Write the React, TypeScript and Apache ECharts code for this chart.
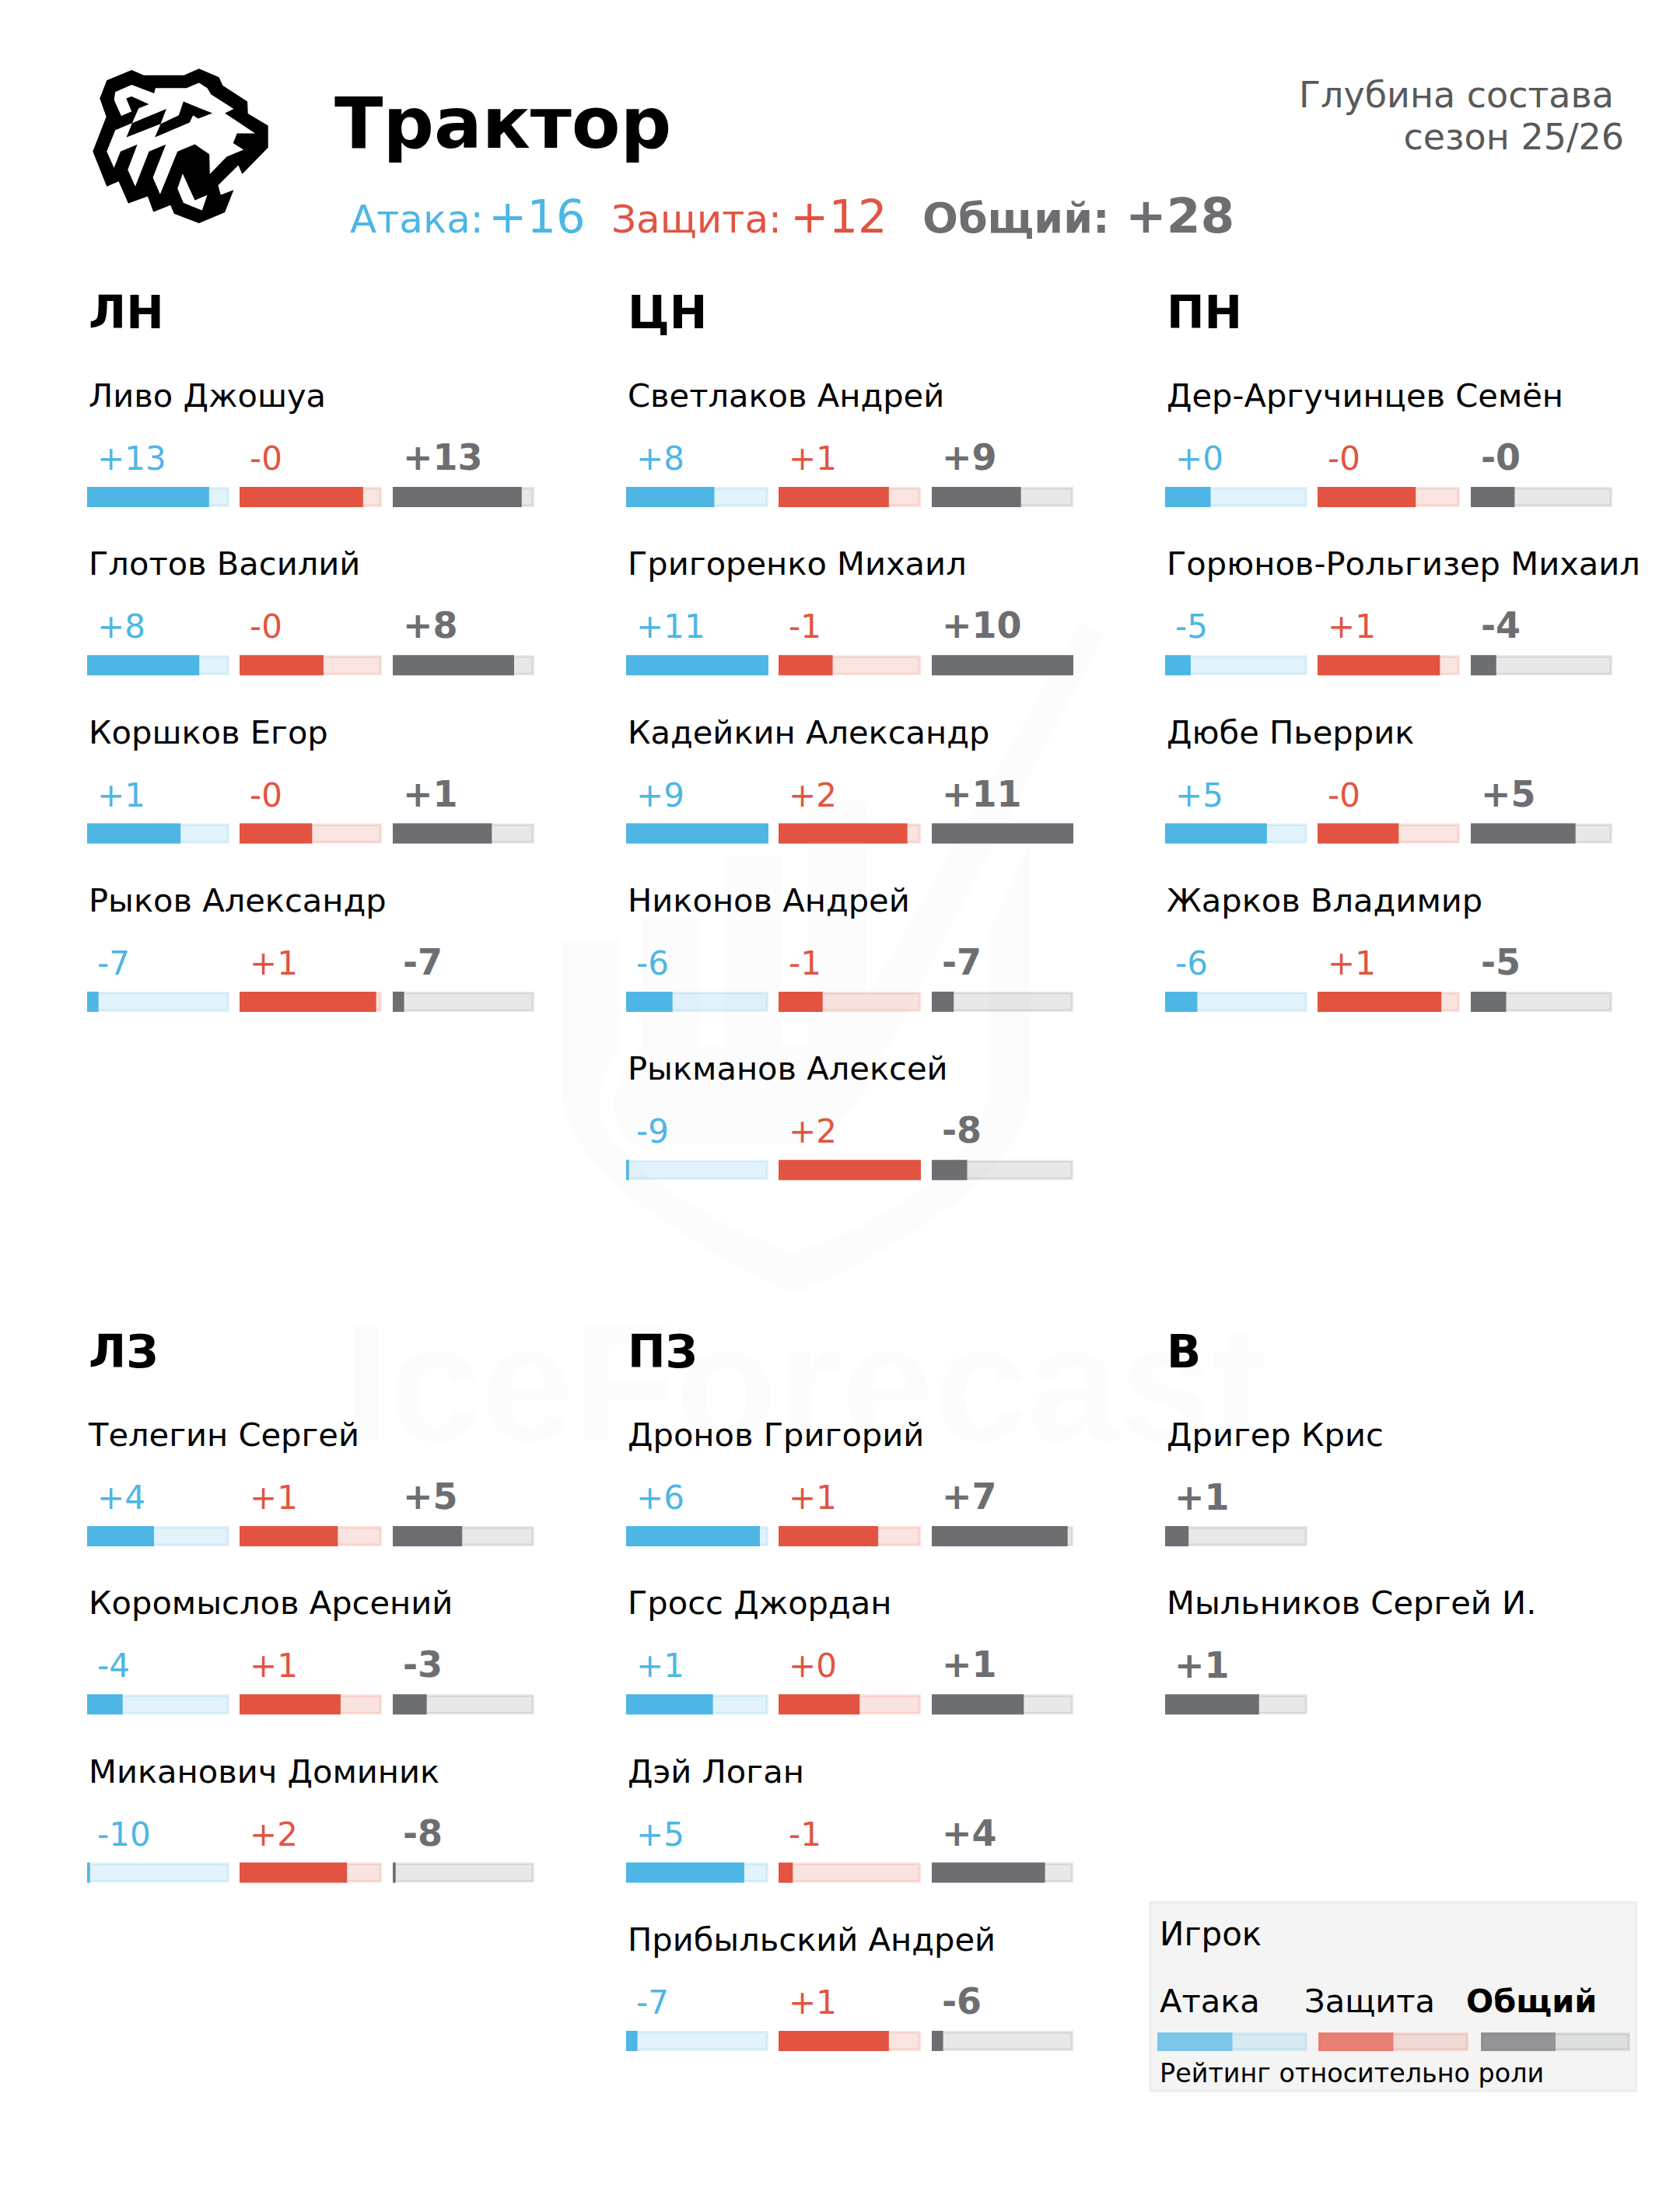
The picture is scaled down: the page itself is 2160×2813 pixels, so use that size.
import React, { useEffect, useRef } from "react";
import * as echarts from "echarts";

const W = 2160;
const H = 2813;
const FONT = "DejaVu Sans";
const BLUE = "#4db6e5";
const RED = "#e25441";
const GREY = "#6d6e71";

const groupNames = ["ЛН", "ЦН", "ПН", "ЛЗ", "ПЗ", "В"];
const groupSizes = [4, 5, 4, 3, 4, 2];
const players = [
  "Ливо Джошуа", "Глотов Василий", "Коршков Егор", "Рыков Александр",
  "Светлаков Андрей", "Григоренко Михаил", "Кадейкин Александр", "Никонов Андрей", "Рыкманов Алексей",
  "Дер-Аргучинцев Семён", "Горюнов-Рольгизер Михаил", "Дюбе Пьеррик", "Жарков Владимир",
  "Телегин Сергей", "Коромыслов Арсений", "Миканович Доминик",
  "Дронов Григорий", "Гросс Джордан", "Дэй Логан", "Прибыльский Андрей",
  "Дригер Крис", "Мыльников Сергей И.",
];
const attackLabels = ["+13", "+8", "+1", "-7", "+8", "+11", "+9", "-6", "-9", "+0", "-5", "+5", "-6", "+4", "-4", "-10", "+6", "+1", "+5", "-7", null, null];
const defenceLabels = ["-0", "-0", "-0", "+1", "+1", "-1", "+2", "-1", "+2", "-0", "+1", "-0", "+1", "+1", "+1", "+2", "+1", "+0", "-1", "+1", null, null];
const overallLabels = ["+13", "+8", "+1", "-7", "+9", "+10", "+11", "-7", "-8", "-0", "-4", "+5", "-5", "+5", "-3", "-8", "+7", "+1", "+4", "-6", "+1", "+1"];
const attackFill = [85.7, 78.8, 65.7, 8, 62, 100, 100, 32.6, 2, 32, 18, 71.5, 22.6, 47, 25, 2, 94, 61, 83, 8, null, null];
const defenceFill = [86.8, 59, 51, 96, 77.5, 38, 90.5, 31, 100, 69, 86, 57, 87, 69, 71, 75.5, 70, 57, 10, 77.5, null, null];
const overallFill = [91.1, 85.7, 70, 8, 63, 100, 100, 15.5, 25, 31, 18, 74, 25, 49, 24, 2, 96, 65, 80, 8, 16.5, 66];
const legendLabels = ["Атака", "Защита", "Общий"];
const legendFill = [50, 50, 50];

const COL_X = [112, 805, 1498];
const TRACK_OFFSET = [0, 196, 393];
const TRACK_W = 183;
const OVERALL_W = 182;
const TRACK_H = 26;
const ROW_H = 216.3;
const SECTION_TOP = [626, 626, 626, 1962, 1962, 1962];

const logoOuter = [[268,90],[315,110],[470,110],[528,85],[605,118],[620,150],[715,212],[717,258],[795,305],[795,390],[695,492],[680,458],[602,535],[612,572],[662,553],[628,640],[528,682],[432,645],[418,612],[352,638],[330,578],[255,605],[218,520],[172,540],[118,405],[170,270],[145,200],[172,130]];
const logoFace = [[205,175],[268,147],[355,180],[360,160],[480,160],[528,140],[560,160],[575,185],[662,240],[628,257],[745,335],[675,335],[660,372],[700,398],[635,425],[570,492],[568,415],[512,377],[445,405],[378,570],[350,505],[400,378],[335,405],[282,540],[253,475],[290,378],[225,405],[200,468],[172,405],[205,322],[270,295],[295,238],[335,222],[268,192],[247,200],[268,250],[228,267],[200,205]];
const logoStripe1 = [[270,295],[402,240],[380,298],[248,350]];
const logoStripe2 = [[380,298],[450,265],[468,212],[580,257],[525,278],[505,265],[492,293],[358,350]];
const logoTooth = [[465,490],[512,593],[560,573],[540,632],[468,603],[445,548]];

const SHIELD = "M722 1208 L797 1208 L797 1350 C775 1380 770 1400 770 1420 C770 1480 900 1570 1022 1610 C1150 1570 1270 1480 1270 1400 L1270 1200 L1325 1080 L1325 1400 C1325 1500 1170 1600 1022 1663 C880 1600 722 1500 722 1400 Z M790 1420 C790 1390 810 1360 825 1345 L825 1177 L900 1177 L900 1345 L930 1345 L930 1100 L1005 1100 L1005 1345 L1038 1345 L1038 1030 L1113 1030 L1113 1285 L1390 800 L1420 815 L1130 1370 C1100 1440 1050 1472 1000 1472 L830 1472 C805 1472 790 1450 790 1420 Z";
echarts.graphic.registerShape("iceShield", echarts.graphic.extendPath(SHIELD, {}));

function rgba(hex: string, a: number) {
  const n = parseInt(hex.slice(1), 16);
  return `rgba(${(n >> 16) & 255},${(n >> 8) & 255},${n & 255},${a})`;
}

function txt(s: string, x: number, baseline: number, size: number, color: string, bold = false, align = "left", family = FONT) {
  return {
    type: "text",
    x,
    y: baseline - 0.346 * size,
    silent: true,
    z: 5,
    style: {
      text: s,
      fill: color,
      font: `${bold ? "bold " : ""}${size}px "${family}"`,
      align,
      verticalAlign: "middle",
    },
  };
}

function poly(points: number[][], fill: string) {
  return { type: "polygon", shape: { points }, style: { fill } };
}

function App() {
  const ref = useRef<HTMLDivElement>(null);
  useEffect(() => {
    document.body.style.margin = "0";
    const chart = echarts.init(ref.current!, null, { renderer: "svg" });
    const grids: any[] = [];
    const xAxes: any[] = [];
    const yAxes: any[] = [];
    const series: any[] = [];
    const addBar = (x: number, y: number, w: number, h: number, value: number, color: string, opacity = 1, trackAlpha = 0.16) => {
      const i = grids.length;
      grids.push({ left: x, top: y, width: w, height: h, containLabel: false });
      xAxes.push({ type: "value", gridIndex: i, min: 0, max: 100, show: false });
      yAxes.push({ type: "category", gridIndex: i, data: [""], show: false });
      series.push({
        type: "bar", xAxisIndex: i, yAxisIndex: i, data: [100], barWidth: "100%", barGap: "-100%", silent: true,
        itemStyle: { color: rgba(color, trackAlpha), borderColor: rgba(color, trackAlpha), borderWidth: 3.4 },
      });
      series.push({
        type: "bar", xAxisIndex: i, yAxisIndex: i, data: [value], barWidth: "100%", barGap: "-100%", silent: true,
        itemStyle: { color: rgba(color, opacity) },
      });
    };

    const graphics: any[] = [];
    // watermark
    graphics.push({ type: "iceShield", silent: true, z: -2, style: { fill: "#fcfcfc" } });
    graphics.push({ ...txt("IceForecast", 440, 1852, 214, "#fcfcfc", true, "left", "Liberation Sans"), z: -2 });
    // header
    graphics.push({
      type: "group", x: 80, y: 60, scaleX: 1 / 3, scaleY: 1 / 3, silent: true, z: 5,
      children: [poly(logoOuter, "#000"), poly(logoFace, "#fff"), poly(logoStripe1, "#000"), poly(logoStripe2, "#000"), poly(logoTooth, "#fff")],
    });
    graphics.push(txt("Трактор", 430, 190, 91.5, "#000", true));
    graphics.push(txt("Атака:", 450, 299, 50, BLUE));
    graphics.push(txt("+16", 628, 299, 59, BLUE));
    graphics.push(txt("Защита:", 786, 299, 50, RED));
    graphics.push(txt("+12", 1016, 299, 59, RED));
    graphics.push(txt("Общий:", 1186, 299, 54, GREY, true));
    graphics.push(txt("+28", 1447, 299, 63, GREY, true));
    graphics.push(txt("Глубина состава", 1670, 138, 46, "#595959"));
    graphics.push(txt("сезон 25/26", 2088, 192, 46, "#595959", false, "right"));

    let p = 0;
    groupNames.forEach((g, gi) => {
      const col = gi % 3;
      const x0 = COL_X[col];
      const top = SECTION_TOP[gi];
      graphics.push(txt(g, x0 + 2, top - 204, 58, "#000", true));
      for (let r = 0; r < groupSizes[gi]; r++, p++) {
        const y = top + ROW_H * r;
        graphics.push(txt(players[p], x0 + 2, y - 103, 41.6, "#000"));
        if (attackLabels[p] === null) {
          graphics.push(txt(overallLabels[p]!, x0 + 12, y - 21, 46, GREY, true));
          addBar(x0, y, TRACK_W, TRACK_H, overallFill[p]!, GREY);
        } else {
          graphics.push(txt(attackLabels[p]!, x0 + 13, y - 22, 42, BLUE));
          graphics.push(txt(defenceLabels[p]!, x0 + TRACK_OFFSET[1] + 13, y - 22, 42, RED));
          graphics.push(txt(overallLabels[p]!, x0 + TRACK_OFFSET[2] + 13, y - 22, 46, GREY, true));
          addBar(x0, y, TRACK_W, TRACK_H, attackFill[p]!, BLUE);
          addBar(x0 + TRACK_OFFSET[1], y, TRACK_W, TRACK_H, defenceFill[p]!, RED);
          addBar(x0 + TRACK_OFFSET[2], y, OVERALL_W, TRACK_H, overallFill[p]!, GREY);
        }
      }
    });

    // legend
    graphics.push({
      type: "rect", shape: { x: 1479, y: 2446, width: 624, height: 242 }, z: -1, silent: true,
      style: { fill: "#f4f4f4", stroke: "#efefef", lineWidth: 4 },
    });
    graphics.push(txt("Игрок", 1491, 2501, 42, "#000"));
    graphics.push(txt(legendLabels[0], 1491, 2587, 41.6, "#000"));
    graphics.push(txt(legendLabels[1], 1677, 2587, 41.6, "#000"));
    graphics.push(txt(legendLabels[2], 1885, 2587, 41.5, "#000", true));
    graphics.push(txt("Рейтинг относительно роли", 1491, 2677, 33.4, "#000"));
    addBar(1488, 2613, 193, 24, legendFill[0], BLUE, 0.66, 0.17);
    addBar(1695, 2613, 193, 24, legendFill[1], RED, 0.66, 0.17);
    addBar(1904, 2613, 192, 24, legendFill[2], GREY, 0.66, 0.17);

    chart.setOption({
      animation: false,
      backgroundColor: "#fff",
      grid: grids,
      xAxis: xAxes,
      yAxis: yAxes,
      series,
      graphic: { elements: graphics },
    });
    return () => chart.dispose();
  }, []);
  return <div ref={ref} style={{ width: W, height: H, position: "absolute", left: 0, top: 0 }} />;
}

export default App;
